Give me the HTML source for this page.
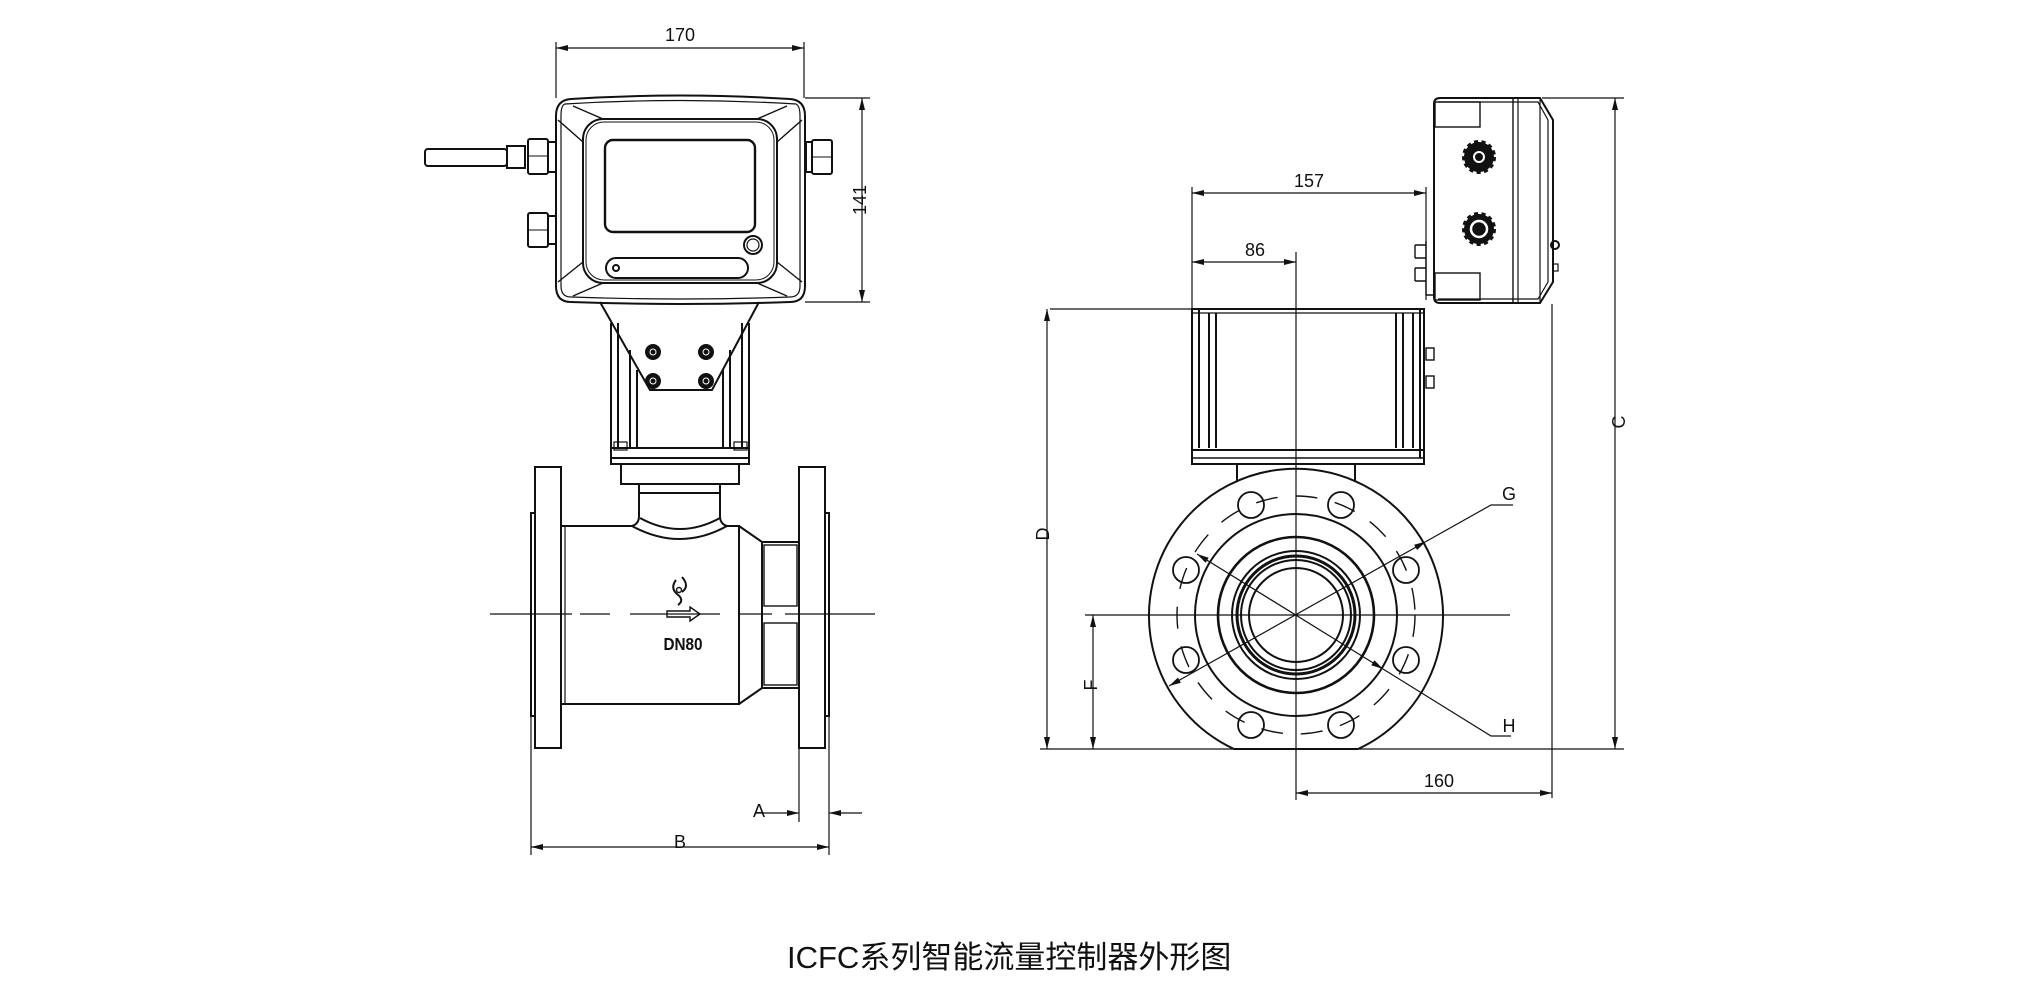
<!DOCTYPE html>
<html><head><meta charset="utf-8"><style>
html,body{margin:0;padding:0;background:#fff;}
svg{display:block;}
text{font-family:"Liberation Sans","Noto Sans CJK SC",sans-serif;fill:#111;}
</style></head><body>
<svg width="2030" height="995" viewBox="0 0 2030 995" xmlns="http://www.w3.org/2000/svg">
<defs>
<marker id="ar" viewBox="0 0 12 6" refX="12" refY="3" markerWidth="12" markerHeight="6" orient="auto-start-reverse" markerUnits="userSpaceOnUse"><path d="M0,0 L12,3 L0,6 Z" fill="#111"/></marker>
</defs>
<g fill="none" stroke="#111" stroke-width="2">
<!-- ===== LEFT VIEW ===== -->
<path d="M571,99 Q680,92 790,99 Q805,100 805,116 L805,286 Q805,302 790,302 Q680,306 571,302 Q556,302 556,286 L556,116 Q556,100 571,99 Z"/>
<path d="M565,104 Q680,97 796,104 Q800,106 800,116 L800,286 Q800,297 790,297 Q680,301 571,297 Q561,297 561,286 L561,116 Q561,105 565,104Z" stroke-width="1.2"/>
<rect x="583" y="119" width="194" height="164" rx="20"/>
<rect x="586" y="122" width="188" height="158" rx="18" stroke-width="1"/>
<rect x="605" y="140" width="150" height="92" rx="8" stroke-width="2.4"/>
<rect x="606" y="258" width="142" height="20" rx="10"/>
<circle cx="616" cy="268" r="3"/>
<circle cx="753" cy="245" r="9"/><circle cx="753" cy="245" r="6" stroke-width="1.2"/>
<path d="M558,120 L583,142 M573,106 L603,119 M802,120 L777,142 M787,106 L757,119 M558,282 L583,262 M573,296 L603,283 M802,282 L777,262 M787,296 L757,283" stroke-width="1.4"/>
<rect x="425" y="149" width="82" height="17" rx="3"/>
<rect x="507" y="146" width="18" height="22"/>
<rect x="528" y="139" width="20" height="35" rx="2"/><line x1="528" y1="156" x2="548" y2="156" stroke-width="1"/>
<rect x="548" y="142" width="8" height="30"/>
<rect x="528" y="213" width="20" height="34" rx="2"/><line x1="528" y1="230" x2="548" y2="230" stroke-width="1"/>
<rect x="548" y="216" width="8" height="28"/>
<rect x="806" y="142" width="6" height="30"/>
<rect x="812" y="140" width="20" height="34" rx="2"/><line x1="812" y1="157" x2="832" y2="157" stroke-width="1"/>
<path d="M600,302 L650,390 L712,390 L759,302"/>
<path d="M611,323 L611,448 M618,323 L618,448 M630,350 L630,448 M637,370 L637,448"/>
<path d="M749,323 L749,448 M742,323 L742,448 M730,350 L730,448 M723,370 L723,448"/>
<rect x="611" y="448" width="138" height="16"/><line x1="611" y1="458" x2="749" y2="458"/>
<rect x="614" y="442" width="13" height="8" stroke-width="1.2"/><rect x="734" y="442" width="13" height="8" stroke-width="1.2"/>
<g fill="#111"><circle cx="653" cy="352" r="7"/><circle cx="706" cy="352" r="7"/><circle cx="653" cy="381" r="7"/><circle cx="706" cy="381" r="7"/></g>
<g stroke="#fff" stroke-width="1"><circle cx="653" cy="352" r="3"/><circle cx="706" cy="352" r="3"/><circle cx="653" cy="381" r="3"/><circle cx="706" cy="381" r="3"/></g>
<rect x="621" y="464" width="118" height="20"/>
<path d="M639,484 L639,516 Q639,524 632,526 M720,484 L720,516 Q720,524 727,526"/>
<line x1="639" y1="493" x2="720" y2="493"/>
<path d="M632,526 Q680,552 727,526"/>
<path d="M640,518 Q680,540 720,518"/>
<rect x="535" y="467" width="26" height="281"/>
<rect x="531" y="513" width="4" height="203"/>
<rect x="799" y="467" width="26" height="281"/>
<rect x="825" y="513" width="4" height="203"/>
<path d="M561,526 L632,526 M727,526 L739,526 L739,704 L561,704"/>
<line x1="565" y1="526" x2="565" y2="704" stroke-width="1.2"/>
<path d="M739,526 L762,542 L799,542 M739,704 L762,688 L799,688 M762,542 L762,688"/>
<rect x="764" y="545" width="33" height="61" stroke-width="1.4"/>
<rect x="764" y="623" width="33" height="62" stroke-width="1.4"/>
<path d="M490,614 L572,614 M580,614 L610,614 M630,614 L720,614 M740,614 L772,614 M785,614 L875,614" stroke-width="1.2"/>
<path d="M667,611 L690,611 L690,607 L700,614 L690,621 L690,617 L667,617 Z" stroke-width="1.4"/>
<path d="M676,580 Q670,588 677,594 Q685,600 678,605 M682,577 Q690,586 682,592" stroke-width="2"/>
<circle cx="679" cy="590" r="2.5" stroke-width="1.4"/>
<g stroke-width="1.2">
<line x1="556" y1="42" x2="556" y2="98"/><line x1="804" y1="42" x2="804" y2="98"/>
<line x1="556" y1="48" x2="804" y2="48" marker-start="url(#ar)" marker-end="url(#ar)"/>
<line x1="805" y1="98" x2="870" y2="98"/><line x1="805" y1="302" x2="870" y2="302"/>
<line x1="862" y1="98" x2="862" y2="302" marker-start="url(#ar)" marker-end="url(#ar)"/>
<line x1="799" y1="748" x2="799" y2="822"/><line x1="829" y1="716" x2="829" y2="855"/>
<line x1="755" y1="813" x2="799" y2="813" marker-end="url(#ar)"/>
<line x1="862" y1="813" x2="829" y2="813" marker-end="url(#ar)"/>
<line x1="531" y1="716" x2="531" y2="855"/>
<line x1="531" y1="847" x2="829" y2="847" marker-start="url(#ar)" marker-end="url(#ar)"/>
</g>

<!-- ===== RIGHT VIEW ===== -->
<path d="M1440,98 L1540,98 L1553,120 L1553,282 L1540,303 L1440,303 Q1434,303 1434,297 L1434,104 Q1434,98 1440,98 Z"/>
<path d="M1438,102 L1538,102 L1548,120 L1548,282 L1538,299 L1438,299" stroke-width="1.2"/>
<line x1="1513" y1="99" x2="1513" y2="302" stroke-width="1.4"/><line x1="1518" y1="99" x2="1518" y2="302" stroke-width="1.2"/>
<line x1="1540" y1="98" x2="1540" y2="303" stroke-width="1.2"/>
<rect x="1435" y="102" width="45" height="25" stroke-width="1.4"/>
<rect x="1435" y="273" width="45" height="27" stroke-width="1.4"/>
<circle cx="1555" cy="245" r="4"/><rect x="1553" y="264" width="5" height="7" stroke-width="1.2"/>
<g fill="#111"><circle cx="1479" cy="157" r="14"/><circle cx="1479" cy="229" r="14"/></g>
<g stroke-width="4" stroke-dasharray="4,3.3"><circle cx="1479" cy="157" r="15"/><circle cx="1479" cy="229" r="15"/></g>
<circle cx="1479" cy="157" r="5" stroke="#fff" stroke-width="2"/>
<circle cx="1479" cy="229" r="8" stroke="#fff" stroke-width="2.5"/>
<path d="M1426,241 L1426,295 L1435,295 M1415,245 L1426,245 M1415,258 L1426,258 M1415,268 L1426,268 M1415,281 L1426,281 M1415,245 L1415,258 M1415,268 L1415,281" stroke-width="1.4"/>
<rect x="1426" y="348" width="8" height="12" stroke-width="1.4"/><rect x="1426" y="376" width="8" height="12" stroke-width="1.4"/>
<path d="M1192,309 L1424,309 L1424,464 L1192,464 Z"/>
<line x1="1192" y1="313" x2="1424" y2="313" stroke-width="1.2"/>
<path d="M1199,309 L1199,448 M1209,313 L1209,448 M1216,313 L1216,448 M1396,313 L1396,448 M1403,313 L1403,448 M1413,313 L1413,448 M1420,309 L1420,458"/>
<line x1="1192" y1="450" x2="1424" y2="450"/>
<line x1="1192" y1="458" x2="1424" y2="458" stroke-width="1.4"/>
<path d="M1237,464 L1237,482 M1355,464 L1355,482"/>
<path d="M1234,749 A147,147 0 1 1 1358,749 Z"/>
<circle cx="1296" cy="615" r="101"/>
<circle cx="1296" cy="615" r="78" stroke-width="2.6"/>
<circle cx="1296" cy="615" r="64"/>
<circle cx="1296" cy="615" r="59" stroke-width="3"/>
<circle cx="1296" cy="615" r="55" stroke-width="2"/>
<circle cx="1296" cy="615" r="47"/>
<circle cx="1296" cy="615" r="119" stroke-width="1.4" stroke-dasharray="22,18"/>
<g stroke-width="1.8">
<circle cx="1251" cy="505" r="13"/><circle cx="1341" cy="505" r="13"/>
<circle cx="1186" cy="570" r="13"/><circle cx="1406" cy="570" r="13"/>
<circle cx="1186" cy="660" r="13"/><circle cx="1406" cy="660" r="13"/>
<circle cx="1251" cy="725" r="13"/><circle cx="1341" cy="725" r="13"/>
</g>
<g stroke-width="1.2">
<line x1="1085" y1="615" x2="1510" y2="615"/>
<line x1="1296" y1="252" x2="1296" y2="800"/>
<line x1="1169" y1="686" x2="1426" y2="541.5" marker-start="url(#ar)" marker-end="url(#ar)"/>
<path d="M1426,541.5 L1491,505 L1513,505"/>
<line x1="1197" y1="554" x2="1383" y2="669" marker-start="url(#ar)" marker-end="url(#ar)"/>
<path d="M1383,669 L1491,736 L1511,736"/>
</g>
<g stroke-width="1.2">
<line x1="1192" y1="187" x2="1192" y2="309"/><line x1="1426" y1="187" x2="1426" y2="300"/>
<line x1="1192" y1="193" x2="1426" y2="193" marker-start="url(#ar)" marker-end="url(#ar)"/>
<line x1="1192" y1="262" x2="1296" y2="262" marker-start="url(#ar)" marker-end="url(#ar)"/>
<line x1="1050" y1="309" x2="1192" y2="309"/>
<line x1="1047" y1="309" x2="1047" y2="749" marker-start="url(#ar)" marker-end="url(#ar)"/>
<line x1="1040" y1="749" x2="1624" y2="749"/>
<line x1="1093" y1="615" x2="1093" y2="749" marker-start="url(#ar)" marker-end="url(#ar)"/>
<line x1="1542" y1="98" x2="1624" y2="98"/>
<line x1="1615" y1="98" x2="1615" y2="749" marker-start="url(#ar)" marker-end="url(#ar)"/>
<line x1="1552" y1="304" x2="1552" y2="798"/>
<line x1="1296" y1="793" x2="1552" y2="793" marker-start="url(#ar)" marker-end="url(#ar)"/>
</g>
</g>
<g font-size="18">
<text x="680" y="41" text-anchor="middle">170</text>
<text transform="translate(866,200) rotate(-90)" text-anchor="middle">141</text>
<text x="759" y="817" text-anchor="middle">A</text>
<text x="680" y="848" text-anchor="middle">B</text>
<text x="1309" y="187" text-anchor="middle">157</text>
<text x="1255" y="256" text-anchor="middle">86</text>
<text transform="translate(1049,534) rotate(-90)" text-anchor="middle">D</text>
<text transform="translate(1097,685) rotate(-90)" text-anchor="middle">F</text>
<text transform="translate(1625,422) rotate(-90)" text-anchor="middle">C</text>
<text x="1509" y="500" text-anchor="middle">G</text>
<text x="1509" y="732" text-anchor="middle">H</text>
<text x="1439" y="787" text-anchor="middle">160</text>
</g>
<text transform="translate(683,650) scale(0.85,1)" text-anchor="middle" font-size="18" font-weight="bold">DN80</text>
<text x="787" y="968" font-size="31">ICFC系列智能流量控制器外形图</text>
</svg>
</body></html>
